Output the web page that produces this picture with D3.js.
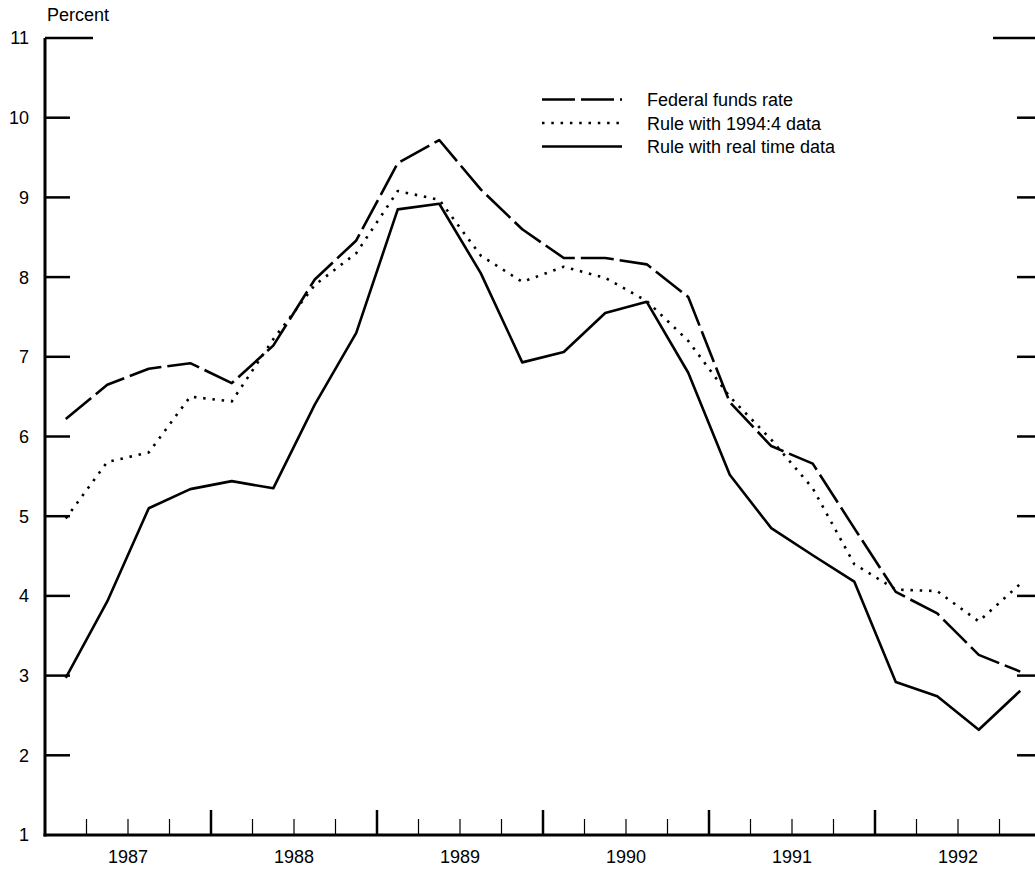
<!DOCTYPE html>
<html>
<head>
<meta charset="utf-8">
<script src="https://cdn.jsdelivr.net/npm/d3@7"></script>
<style>
  body { margin: 0; background: #fff; }
  text { font-family: "Liberation Sans", Arial, sans-serif; font-size: 18px; fill: #000; }
</style>
</head>
<body>
<svg id="chart" width="1035" height="869"></svg>
<script>
// quarterly observations, 1987:1 - 1992:4
const quarters = [
  "1987:1", "1987:2", "1987:3", "1987:4",
  "1988:1", "1988:2", "1988:3", "1988:4",
  "1989:1", "1989:2", "1989:3", "1989:4",
  "1990:1", "1990:2", "1990:3", "1990:4",
  "1991:1", "1991:2", "1991:3", "1991:4",
  "1992:1", "1992:2", "1992:3", "1992:4"
];
const fedFunds = [6.22, 6.65, 6.85, 6.92, 6.67, 7.14, 7.97, 8.46, 9.43, 9.72, 9.10, 8.60,
                  8.24, 8.24, 8.16, 7.75, 6.43, 5.88, 5.66, 4.85, 4.05, 3.78, 3.26, 3.05];
const rule1994 = [4.97, 5.68, 5.80, 6.50, 6.44, 7.22, 7.90, 8.30, 9.08, 8.97, 8.27, 7.94,
                  8.13, 7.99, 7.70, 7.20, 6.50, 5.96, 5.35, 4.40, 4.08, 4.06, 3.68, 4.15];
const ruleRealTime = [2.97, 3.93, 5.10, 5.34, 5.44, 5.35, 6.40, 7.30, 8.85, 8.92, 8.05, 6.93,
                      7.06, 7.55, 7.69, 6.80, 5.52, 4.85, 4.51, 4.18, 2.92, 2.74, 2.32, 2.81];
const years = [1987, 1988, 1989, 1990, 1991, 1992];
const yTicks = [1, 2, 3, 4, 5, 6, 7, 8, 9, 10, 11];
const seriesNames = ["Federal funds rate", "Rule with 1994:4 data", "Rule with real time data"];

const svg = d3.select("#chart");
const plotLeft = 45, plotBottom = 835, plotTop = 38;

// quarter "yyyy:q" -> fractional year at middle of the quarter
const qToYear = (s) => {
  const [yr, q] = s.split(":").map(Number);
  return yr + (q - 0.5) / 4;
};

const x = d3.scaleLinear().domain([1987, 1993]).range([plotLeft, 1041]);
const y = d3.scaleLinear().domain([1, 11]).range([plotBottom, plotTop]);

const styles = [
  {dash: "33,6"},
  {dash: "2.5,6.8"},
  {dash: null}
];
const allSeries = [fedFunds, rule1994, ruleRealTime];

// ---- lines
const line = d3.line()
  .x((d, i) => x(qToYear(quarters[i])))
  .y(d => y(d));

allSeries.forEach((vals, k) => {
  svg.append("path")
    .datum(vals)
    .attr("d", line)
    .attr("fill", "none")
    .attr("stroke", "#000")
    .attr("stroke-width", 2.6)
    .attr("stroke-linejoin", "round")
    .attr("stroke-dasharray", styles[k].dash);
});

// ---- left axis
const leftAxis = svg.append("g");
leftAxis.append("line")
  .attr("x1", plotLeft).attr("x2", plotLeft)
  .attr("y1", y(11)).attr("y2", plotBottom + 1.5)
  .attr("stroke", "#000").attr("stroke-width", 3);
leftAxis.selectAll(".lt")
  .data(yTicks.filter(v => v > 1))
  .join("line")
  .attr("x1", plotLeft)
  .attr("x2", d => d === 11 ? 93 : 70)
  .attr("y1", d => y(d)).attr("y2", d => y(d))
  .attr("stroke", "#000").attr("stroke-width", 2.5);
leftAxis.selectAll("text")
  .data(yTicks)
  .join("text")
  .attr("x", 29)
  .attr("y", d => y(d))
  .attr("dy", "0.36em")
  .attr("text-anchor", "end")
  .text(d => d);

// ---- right ticks
svg.selectAll(".rt")
  .data(yTicks.filter(v => v > 1))
  .join("line")
  .attr("x1", d => d === 11 ? 993 : 1017)
  .attr("x2", 1035)
  .attr("y1", d => y(d)).attr("y2", d => y(d))
  .attr("stroke", "#000").attr("stroke-width", 2.5);

svg.append("text")
  .attr("x", 47).attr("y", 21)
  .text("Percent");

// ---- bottom axis
const quarterTicks = d3.range(1987.25, 1993, 0.25).filter(v => Math.abs(v - Math.round(v)) > 0.01);
const yearTicks = d3.range(1988, 1993);

svg.append("line")
  .attr("x1", plotLeft - 1.5).attr("x2", 1035)
  .attr("y1", plotBottom).attr("y2", plotBottom)
  .attr("stroke", "#000").attr("stroke-width", 3);

svg.selectAll(".qt")
  .data(quarterTicks)
  .join("line")
  .attr("x1", d => x(d)).attr("x2", d => x(d))
  .attr("y1", plotBottom).attr("y2", plotBottom - 16)
  .attr("stroke", "#000").attr("stroke-width", 1.2);

svg.selectAll(".yt")
  .data(yearTicks)
  .join("line")
  .attr("x1", d => x(d)).attr("x2", d => x(d))
  .attr("y1", plotBottom).attr("y2", plotBottom - 25)
  .attr("stroke", "#000").attr("stroke-width", 2.5);

svg.selectAll(".yl")
  .data(years)
  .join("text")
  .attr("x", d => x(d + 0.5))
  .attr("y", 863)
  .attr("text-anchor", "middle")
  .text(d => d);

// ---- legend
const legend = svg.append("g");
seriesNames.forEach((name, k) => {
  const ly = 99.5 + k * 23.5;
  legend.append("line")
    .attr("x1", 542).attr("x2", 622)
    .attr("y1", ly).attr("y2", ly)
    .attr("stroke", "#000").attr("stroke-width", 2.6)
    .attr("stroke-dasharray", styles[k].dash);
  legend.append("text")
    .attr("x", 647).attr("y", ly + 6.5)
    .text(name);
});
</script>
</body>
</html>
